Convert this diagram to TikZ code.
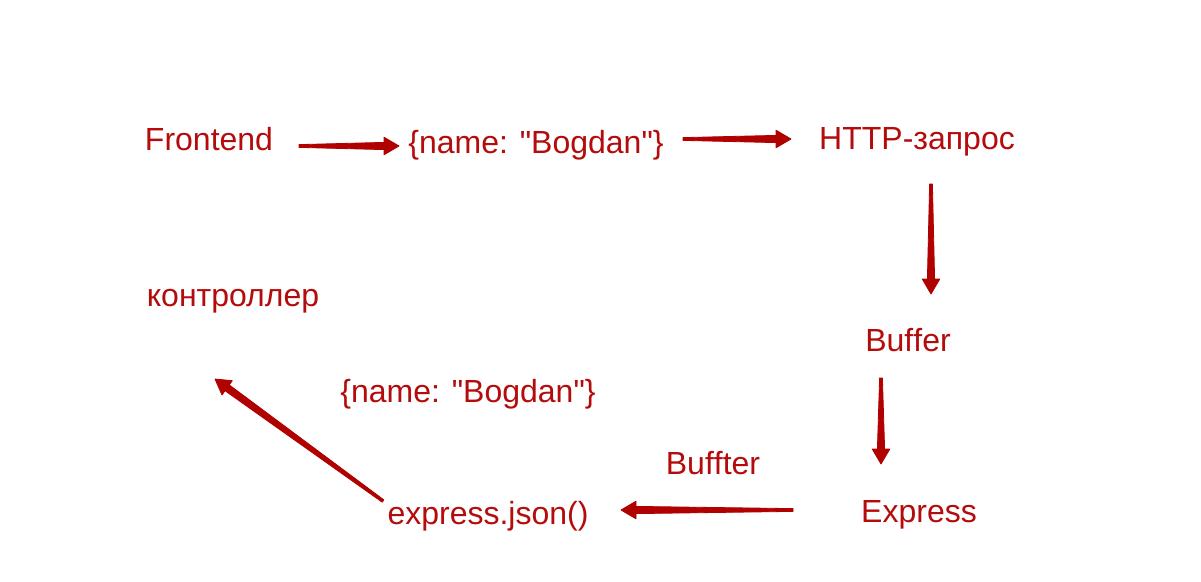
\documentclass[tikz,border=0pt]{standalone}
\usepackage{fontspec}
\newfontfamily\lbf{Liberation Sans}[Ligatures={TeXOff,NoCommon}]
\usetikzlibrary{calc}
\definecolor{txtred}{RGB}{180,12,12}
\definecolor{arrred}{RGB}{176,0,0}
\tikzset{
  lbl/.style={text=txtred, font=\lbf\fontsize{32}{36}\selectfont, anchor=base, inner sep=0pt},
  arr/.style={fill=arrred, draw=arrred, line width=0.8pt, line join=round}
}
\newcommand\taparrow[2]{%
  \coordinate (hb) at ($(#2)!15pt!(#1)$);
  \path[arr] ($(#1)!1.4pt!90:(#2)$) -- ($(hb)!3.6pt!90:(#2)$) -- ($(hb)!8.8pt!90:(#2)$) -- (#2)
    -- ($(hb)!8.8pt!-90:(#2)$) -- ($(hb)!3.6pt!-90:(#2)$) -- ($(#1)!1.4pt!-90:(#2)$) -- cycle;
}
\begin{document}
\begin{tikzpicture}[x=1pt,y=-1pt]
\useasboundingbox[fill=white] (0,0) rectangle (1201,581);
\node[lbl] (fe) at (209,150) {Frontend};
\node[lbl] (obj1) at (536,153) {\{name: "Bogdan"\}};
\node[lbl] (http) at (917,149) {HTTP-запрос};
\node[lbl] (buf) at (908,351) {Buf\kern0ptfer};
\node[lbl] (exp) at (919,522) {Express};
\node[lbl] (bft) at (713,474) {Buf\kern0ptfter};
\node[lbl] (ej) at (488,524) {express.json()};
\node[lbl] (obj2) at (468,402) {\{name: "Bogdan"\}};
\node[lbl] (ctl) at (233,306) {контроллер};
% arrow end points
\coordinate (a1s) at (299,146); \coordinate (a1e) at (399,146);
\coordinate (a2s) at (683,139); \coordinate (a2e) at (791,139);
\coordinate (a3s) at (931,184); \coordinate (a3e) at (931,294);
\coordinate (a4s) at (881,378); \coordinate (a4e) at (881,464);
\coordinate (a5s) at (793,510); \coordinate (a5e) at (621,510);
\coordinate (a6s) at (383,501); \coordinate (a6e) at (215,379);
\taparrow{a1s}{a1e}
\taparrow{a2s}{a2e}
\taparrow{a3s}{a3e}
\taparrow{a4s}{a4e}
\taparrow{a5s}{a5e}
\taparrow{a6s}{a6e}
\end{tikzpicture}
\end{document}
